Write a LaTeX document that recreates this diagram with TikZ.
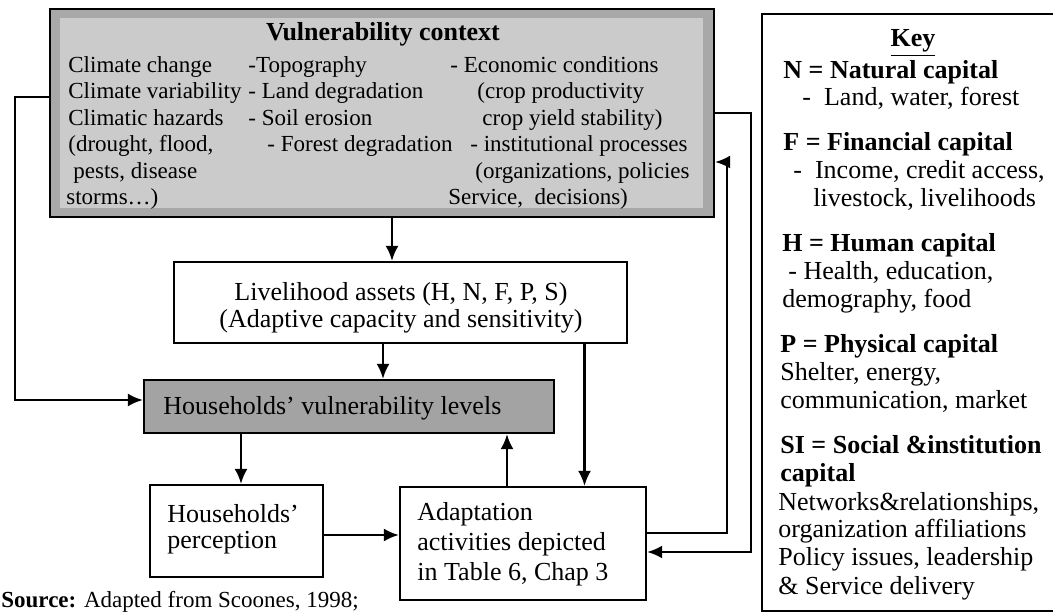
\documentclass[tikz,border=0pt]{standalone}
\usepackage{fontspec}
\setmainfont{Liberation Serif}
\usetikzlibrary{arrows.meta,calc}
\definecolor{vcband}{HTML}{A8A8A8}
\definecolor{vcin}{HTML}{CBCBCB}
\definecolor{hvfill}{HTML}{A3A3A3}
\begin{document}
\begin{tikzpicture}[x=0.5pt,y=-0.5pt,
  box/.style={draw, line width=1.1pt, inner sep=0pt},
  tb/.style={inner sep=0pt, anchor=base west, font=\fontsize{13}{15}\selectfont},
  ts/.style={inner sep=0pt, anchor=base west, font=\fontsize{11.5}{13}\selectfont},
  arr/.style={line width=1.2pt, -{Latex[length=7.5pt,width=6.5pt]}}]
\useasboundingbox (0,0) rectangle (1053,613);
\fill[white] (0,0) rectangle (1053,613);
\clip (0,0) rectangle (1053,613);

% Vulnerability context box
\node[box, fill=vcband, minimum width=332pt, minimum height=104pt] (vc) at (382,113) {};
\fill[vcin] ([shift={(11,10)}]vc.north west) rectangle ([shift={(-12,-10)}]vc.south east);
\node[tb, anchor=base, font=\fontsize{13}{15}\selectfont\bfseries] (vct) at (383,41) {Vulnerability context};
% column 1
\node[ts] (a1) at (68,73)  {Climate change};
\node[ts] (a2) at (68,99)  {Climate variability};
\node[ts] (a3) at (68,126) {Climatic hazards};
\node[ts] (a4) at (68,152) {(drought, flood,};
\node[ts] (a5) at (73,179) {pests, disease};
\node[ts] (a6) at (66,205) {storms…)};
% column 2
\node[ts] (b1) at (248,73)  {-Topography};
\node[ts] (b2) at (248,99)  {- Land degradation};
\node[ts] (b3) at (248,126) {- Soil erosion};
\node[ts] (b4) at (267,152) {- Forest degradation};
% column 3
\node[ts] (c1) at (450,73)  {- Economic conditions};
\node[ts] (c2) at (477,99)  {(crop productivity};
\node[ts] (c3) at (482,126) {crop yield stability)};
\node[ts] (c4) at (470,152) {- institutional processes};
\node[ts] (c5) at (475,179) {(organizations, policies};
\node[ts] (c6) at (448,205) {Service,\ \ decisions)};

% Livelihood assets
\node[box, minimum width=226.5pt, minimum height=40.5pt] (liv) at (400.5,302.5) {};
\node[tb, anchor=base] (liv1) at (401,301) {Livelihood assets (H, N, F, P, S)};
\node[tb, anchor=base] (liv2) at (401,328) {(Adaptive capacity and sensitivity)};

% Households' vulnerability levels
\node[box, fill=hvfill, minimum width=205pt, minimum height=26.5pt] (hv) at (349,406.5) {};
\node[tb] (hvt) at (163,415) {Households’ vulnerability levels};

% Households' perception
\node[box, minimum width=86.5pt, minimum height=46pt] (per) at (236.5,531) {};
\node[tb] (per1) at (167,523) {Households’};
\node[tb] (per2) at (167,548) {perception};

% Adaptation activities
\node[box, minimum width=123pt, minimum height=56.5pt] (ad) at (523,543.5) {};
\node[tb] (ad1) at (417,521) {Adaptation};
\node[tb] (ad2) at (417,551) {activities depicted};
\node[tb] (ad3) at (417,580) {in Table 6, Chap 3};

% Key box
\node[box, minimum width=159pt, minimum height=298.5pt] (key) at (921,312.5) {};
\node[tb, anchor=base, font=\fontsize{13}{15}\selectfont\bfseries] (k0) at (913,47) {\underline{Key}};
\node[tb, font=\fontsize{13}{15}\selectfont\bfseries] (k1) at (783,79) {N = Natural capital};
\node[tb] (k2) at (802,106) {- \ Land, water, forest};
\node[tb, font=\fontsize{13}{15}\selectfont\bfseries] (k3) at (783,151) {F = Financial capital};
\node[tb] (k4) at (793,179) {- \ Income, credit access,};
\node[tb] (k5) at (813,207) {livestock, livelihoods};
\node[tb, font=\fontsize{13}{15}\selectfont\bfseries] (k6) at (782,252) {H = Human capital};
\node[tb] (k7) at (788,280) {- Health, education,};
\node[tb] (k8) at (782,308) {demography, food};
\node[tb, font=\fontsize{13}{15}\selectfont\bfseries] (k9) at (780,353) {P = Physical capital};
\node[tb] (k10) at (780,381) {Shelter, energy,};
\node[tb] (k11) at (780,409) {communication, market};
\node[tb, font=\fontsize{13}{15}\selectfont\bfseries] (k12) at (780,454) {SI = Social \&institution};
\node[tb, font=\fontsize{13}{15}\selectfont\bfseries] (k13) at (780,482) {capital};
\node[tb] (k14) at (778,510) {Networks\&relationships,};
\node[tb] (k15) at (778,538) {organization affiliations};
\node[tb] (k16) at (778,566) {Policy issues, leadership};
\node[tb] (k17) at (778,594) {\& Service delivery};

% Source line
\node[ts] (src) at (1,607) {\textbf{Source:} Adapted from Scoones, 1998;};

% Connectors
\coordinate (lx) at (15,0);
\coordinate (rx1) at (727,0);
\coordinate (rx2) at (751,0);
\draw[arr] ([xshift=5pt]vc.south) -- ([xshift=5pt]vc.south |- liv.north);
\draw[arr] ([xshift=-8.75pt]liv.south) -- ([xshift=-8.75pt]liv.south |- hv.north);
\draw[arr] ([xshift=92pt]liv.south) -- ([xshift=92pt]liv.south |- ad.north);
\draw[arr] ([xshift=-54pt]hv.south) -- ([xshift=-54pt]hv.south |- per.north);
\draw[arr] ([xshift=-8pt]ad.north) -- ([xshift=-8pt]ad.north |- hv.south);
\draw[arr] ([yshift=-2pt]per.east) -- ([yshift=-2pt]per.east -| ad.west);
\draw[arr] ([yshift=8pt]vc.west) -- ([yshift=8pt]vc.west -| lx) -- ([yshift=3.25pt]hv.west -| lx) -- ([yshift=3.25pt]hv.west);
\draw[arr] ([yshift=5.25pt]ad.east) -- ([yshift=5.25pt]ad.east -| rx1) -- ([yshift=-24.5pt]vc.east -| rx1) -- ([yshift=-24.5pt]vc.east);
\draw[arr] (vc.east) -- (vc.east -| rx2) -- ([yshift=-4.25pt]ad.east -| rx2) -- ([yshift=-4.25pt]ad.east);
\end{tikzpicture}
\end{document}
